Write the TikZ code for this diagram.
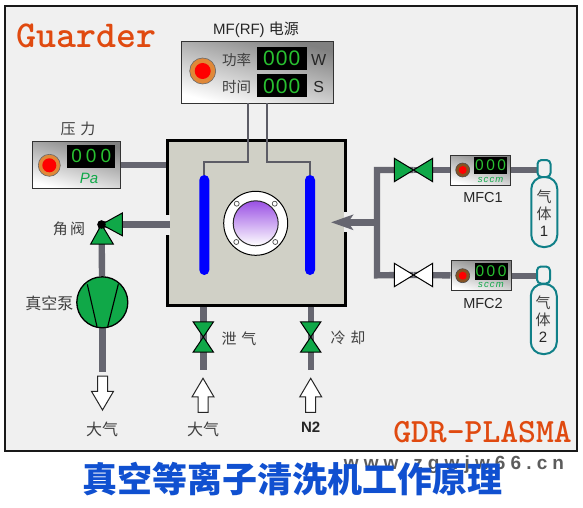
\documentclass[tikz,border=0pt]{standalone}
\usepackage{fontspec}
\setmainfont{Liberation Sans}
\newfontfamily\cjk{Noto Sans CJK SC}
\usetikzlibrary{arrows.meta,shapes.arrows,shapes.misc}
\definecolor{bgc}{HTML}{F0F0F0}
\definecolor{pipec}{HTML}{666670}
\definecolor{greenv}{HTML}{10A848}
\definecolor{digit}{HTML}{28C030}
\definecolor{brand}{HTML}{E04A10}
\definecolor{teal2}{HTML}{108088}
\definecolor{lampo}{HTML}{E08838}
\definecolor{chamberc}{HTML}{D0D0C6}
\definecolor{txt}{HTML}{404040}
\definecolor{titleb}{HTML}{1050D0}
\definecolor{glassc}{HTML}{9A50E4}
\pgfdeclarelayer{back}
\pgfdeclarelayer{mid}
\pgfsetlayers{back,mid,main}
\tikzset{
 panel/.style={draw=black!80,line width=1pt,top color=black!50,bottom color=white,shading angle=-15,inner sep=0pt},
 disp/.style={fill=black,inner sep=0pt,text=digit,align=center},
 lamp/.style={circle,draw=black!60,line width=.6pt,fill=lampo,inner sep=0pt},
 lampin/.style={circle,fill=red,inner sep=0pt},
 pipe/.style={draw=pipec,line width=6.4pt},
 wire/.style={draw=pipec!90!black,line width=2pt},
 valveg/.style={draw=black,line width=1pt,fill=greenv,line join=miter},
 valvew/.style={draw=black,line width=1pt,fill=white,line join=miter},
 lab/.style={text=txt,font=\cjk\fontsize{15}{15}\selectfont,inner sep=0pt},
 latin/.style={text=black!85,font=\fontsize{15}{15}\selectfont,inner sep=0pt},
 electrode/.style={fill=blue,rounded corners=5pt,minimum width=10pt,minimum height=100pt,inner sep=0pt},
 bolt/.style={circle,draw=black!70,fill=white,line width=.7pt,minimum size=5pt,inner sep=0pt},
 oarrow/.style={single arrow,draw=black!85,fill=white,line width=1pt,inner sep=4.5pt,minimum height=34pt,
   single arrow head extend=6pt,single arrow tip angle=61,single arrow head indent=0pt},
 cylbody/.style={draw=teal2,line width=2pt,fill=bgc,rounded corners=12pt,minimum width=26pt,minimum height=70pt,inner sep=0pt},
 cylneck/.style={draw=teal2,line width=2pt,fill=bgc,rounded corners=4pt,minimum width=13pt,minimum height=17pt,inner sep=0pt},
 vtv/.style={inner sep=0pt,minimum width=20pt,minimum height=30pt},
 hzv/.style={inner sep=0pt,minimum width=38pt,minimum height=23pt},
}
\newcommand{\dg}[2]{\fontsize{#1}{#1}\selectfont\addfontfeature{LetterSpace=#2}000}
\begin{document}
\begin{tikzpicture}[x=1pt,y=-1pt]
\useasboundingbox (0,0) rectangle (583,508);
\begin{pgfonlayer}{back}
\fill[white] (0,0) rectangle (583,508);
\node[draw=black!90,line width=2pt,fill=bgc,minimum width=572.5pt,minimum height=445.5pt,inner sep=0pt] (frame) at (291,228.3) {};
\node[fill=chamberc,draw=black,line width=2.6pt,minimum width=178pt,minimum height=165pt,inner sep=0pt] (chamber) at (256.5,223) {};
\fill[bgc] (165.2,215) rectangle (169.6,235);
\fill[bgc] (344,212) rectangle (348,232);
\end{pgfonlayer}
% coordinates for pipes
\coordinate (pinA) at (377,222.3);
\coordinate (pinTop) at (377,170);
\coordinate (pinBot) at (377,275.3);
\coordinate (w1) at (247.7,103);
\coordinate (w2) at (266.7,103);
\coordinate (t1) at (204.3,161.5);
\coordinate (t2) at (310,161.5);
\coordinate (gasIn) at (331,222.3);
\coordinate (exhIn) at (170,224.5);
\coordinate (pumpOut) at (102.3,371.7);
\coordinate (ventOut) at (203.3,370);
\coordinate (coolOut) at (310.7,370);
% main components
\node[panel,minimum width=152pt,minimum height=61.5pt] (rf) at (257.6,72.4) {};
\node[panel,minimum width=88pt,minimum height=47.3pt] (press) at (76.3,164.7) {};
\node[inner sep=0pt,minimum size=1pt] (anglev) at (101.5,224.5) {};
\node[circle,draw=black,line width=1.3pt,fill=greenv,minimum size=51pt,inner sep=0pt] (pump) at (102.3,302.3) {};
\node[vtv] (vent) at (203.3,337) {};
\node[vtv] (cool) at (310.7,337) {};
\node[hzv] (v1) at (413.5,170) {};
\node[hzv] (v2) at (413.5,275) {};
\node[panel,minimum width=60pt,minimum height=30pt] (mfc1) at (480.5,170) {};
\node[panel,minimum width=60pt,minimum height=30pt] (mfc2) at (481,275.7) {};
\node[cylneck] (n1) at (544,168.5) {};
\node[cylneck] (n2) at (543.5,275) {};
% pipes
\begin{pgfonlayer}{mid}
\draw[pipe] (press.east) -- (chamber.west |- press.east);
\draw[pipe] (exhIn) -- (anglev);
\draw[pipe] (anglev) -- (pump);
\draw[pipe] (pump) -- (pumpOut);
\draw[pipe] (chamber.south -| vent) -- (ventOut);
\draw[pipe] (chamber.south -| cool) -- (coolOut);
\draw[pipe] (v1.center) -- (pinTop) -- (pinBot) -- (v2.center);
\draw[pipe] (v1.center) -- (mfc1);
\draw[pipe] (v2.center) -- (mfc2);
\draw[pipe] (mfc1) -- (n1.center |- mfc1);
\draw[pipe] (mfc2) -- (n2.center |- mfc2);
\draw[pipe,-{Stealth[length=22pt,width=15pt,inset=5pt]}] (pinA) -- (gasIn);
\end{pgfonlayer}
\draw[black,line width=1.1pt] (87.3,284.3) -- (97,326.7) (118.3,284.3) -- (107.7,326.7);
% valves
\draw[valveg] (vent.north west) -- (vent.north east) -- (vent.south west) -- (vent.south east) -- cycle;
\draw[valveg] (cool.north west) -- (cool.north east) -- (cool.south west) -- (cool.south east) -- cycle;
\draw[valveg] (v1.north west) -- (v1.south west) -- (v1.north east) -- (v1.south east) -- cycle;
\draw[valvew] (v2.north west) -- (v2.south west) -- (v2.north east) -- (v2.south east) -- cycle;
% angle valve
\draw[valveg] (anglev.center) -- (122.3,213) -- (122.3,235.7) -- cycle;
\draw[valveg] (anglev.center) -- (90.7,244) -- (113.3,244) -- cycle;
\node[circle,fill=black,minimum size=8.6pt,inner sep=0pt] (angledot) at (anglev) {};
% wires & electrodes
\draw[wire] (w1) -- (w1 |- t1) -- (t1) -- ++(0,13);
\draw[wire] (w2) -- (w2 |- t2) -- (t2) -- ++(0,13);
\node[electrode] (e1) at (204.3,225) {};
\node[electrode] (e2) at (310,225) {};
% window
\node[circle,draw=black,line width=1pt,fill=white,minimum size=64pt,inner sep=0pt] (win) at (255.7,223.3) {};
\node[circle,draw=black!85,line width=1pt,top color=glassc,bottom color=white,minimum size=45pt,inner sep=0pt] (glass) at (255.7,223.3) {};
\node[bolt] (b1) at (236.7,203.7) {};
\node[bolt] (b2) at (274.7,203.7) {};
\node[bolt] (b3) at (236.3,242) {};
\node[bolt] (b4) at (275.3,242) {};
% RF panel
\node[lamp,minimum size=26pt] (l1) at (202.7,71) {};
\node[lampin,minimum size=16pt] (l1i) at (202.7,71) {};
\node[lab,font=\cjk\fontsize{14.5}{15}\selectfont] (t1a) at (236.7,60) {功率};
\node[lab,font=\cjk\fontsize{14.5}{15}\selectfont] (t1b) at (236.7,87) {时间};
\node[disp,minimum width=50pt,minimum height=23pt] (d1) at (281.7,58.2) {\dg{21}{5}};
\node[disp,minimum width=50pt,minimum height=23pt] (d2) at (281.7,86) {\dg{21}{5}};
\node[latin,font=\fontsize{16}{16}\selectfont] (uw) at (318.7,59.5) {W};
\node[latin,font=\fontsize{16}{16}\selectfont] (us) at (318.7,87) {S};
\node[latin,inner sep=0pt] (rfl) at (256,30) {MF(RF) {\cjk 电源}};
% Pressure panel
\node[lamp,minimum size=22pt] (l2) at (49.3,165.3) {};
\node[lampin,minimum size=14pt] (l2i) at (49.3,165.3) {};
\node[disp,minimum width=48pt,minimum height=22.7pt] (d3) at (91.3,156.3) {\dg{19}{22}};
\node[inner sep=0pt,text=greenv,font=\fontsize{15}{15}\selectfont\itshape] (pa) at (89,178) {Pa};
\node[lab] (pl) at (78,129) {压\,\,力};
% MFC panels
\node[lamp,draw=black!70,minimum size=14pt,fill=lampo!60!black] (l3) at (462.7,170) {};
\node[lampin,minimum size=8pt] (l3i) at (462.7,170) {};
\node[disp,minimum width=33pt,minimum height=17pt] (d4) at (490.6,165.6) {\dg{15.5}{16}};
\node[inner sep=0pt,text=greenv,font=\fontsize{9.5}{10}\selectfont\itshape\addfontfeature{LetterSpace=12}] (s1) at (490.6,179.5) {sccm};
\node[latin,font=\fontsize{14.5}{15}\selectfont] (m1) at (483,198) {MFC1};
\node[lamp,draw=black!70,minimum size=14pt,fill=lampo!60!black] (l4) at (462.7,275.7) {};
\node[lampin,minimum size=8pt] (l4i) at (462.7,275.7) {};
\node[disp,minimum width=33pt,minimum height=17pt] (d5) at (491,271.6) {\dg{15.5}{16}};
\node[inner sep=0pt,text=greenv,font=\fontsize{9.5}{10}\selectfont\itshape\addfontfeature{LetterSpace=12}] (s2) at (491,285.2) {sccm};
\node[latin,font=\fontsize{14.5}{15}\selectfont] (m2) at (483,304) {MFC2};
% cylinders
\node[cylbody] (c1) at (544.3,212) {};
\node[cylbody] (c2) at (543.8,319) {};
\node[lab] (c1a) at (544,197) {气};
\node[lab] (c1b) at (544,214) {体};
\node[latin] (c1c) at (544,231) {1};
\node[lab] (c2a) at (543,303) {气};
\node[lab] (c2b) at (543,320) {体};
\node[latin] (c2c) at (543,337) {2};
% open arrows
\node[oarrow,rotate=-90,anchor=tip] (a1) at (102.5,411) {};
\node[oarrow,rotate=90,anchor=tip] (a2) at (203,377.3) {};
\node[oarrow,rotate=90,anchor=tip] (a3) at (310.7,377.3) {};
% labels
\node[lab,font=\cjk\fontsize{16}{16}\selectfont] (la1) at (102,429) {大气};
\node[lab,font=\cjk\fontsize{16}{16}\selectfont] (la2) at (203,429) {大气};
\node[latin,font=\fontsize{15}{15}\selectfont\bfseries] (la3) at (310.7,427) {N2};
\node[lab,font=\cjk\fontsize{16}{16}\selectfont] (la4) at (49.3,303) {真空泵};
\node[lab] (la5) at (69,228.5) {角\,阀};
\node[lab] (la6) at (239,339) {泄\,\,气};
\node[lab] (la7) at (348,338) {冷\,\,却};
% brand
\node[inner sep=0pt,text=brand,font=\ttfamily\bfseries\fontsize{38}{38}\selectfont] (br1) at (86.5,36) {Guarder};
\node[inner sep=0pt,text=brand,font=\ttfamily\bfseries\fontsize{34}{34}\selectfont] (br2) at (482.5,432) {GDR-PLASMA};
% title and watermark
\node[inner sep=0pt,text=black!75,opacity=.85,font=\bfseries\fontsize{19}{19}\selectfont\addfontfeature{LetterSpace=27}] (wm) at (454,465) {www.zgwjw66.cn};
\node[inner sep=0pt,text=titleb,font=\cjk\bfseries\fontsize{35}{35}\selectfont] (title) at (292,479) {真空等离子清洗机工作原理};
\end{tikzpicture}
\end{document}
